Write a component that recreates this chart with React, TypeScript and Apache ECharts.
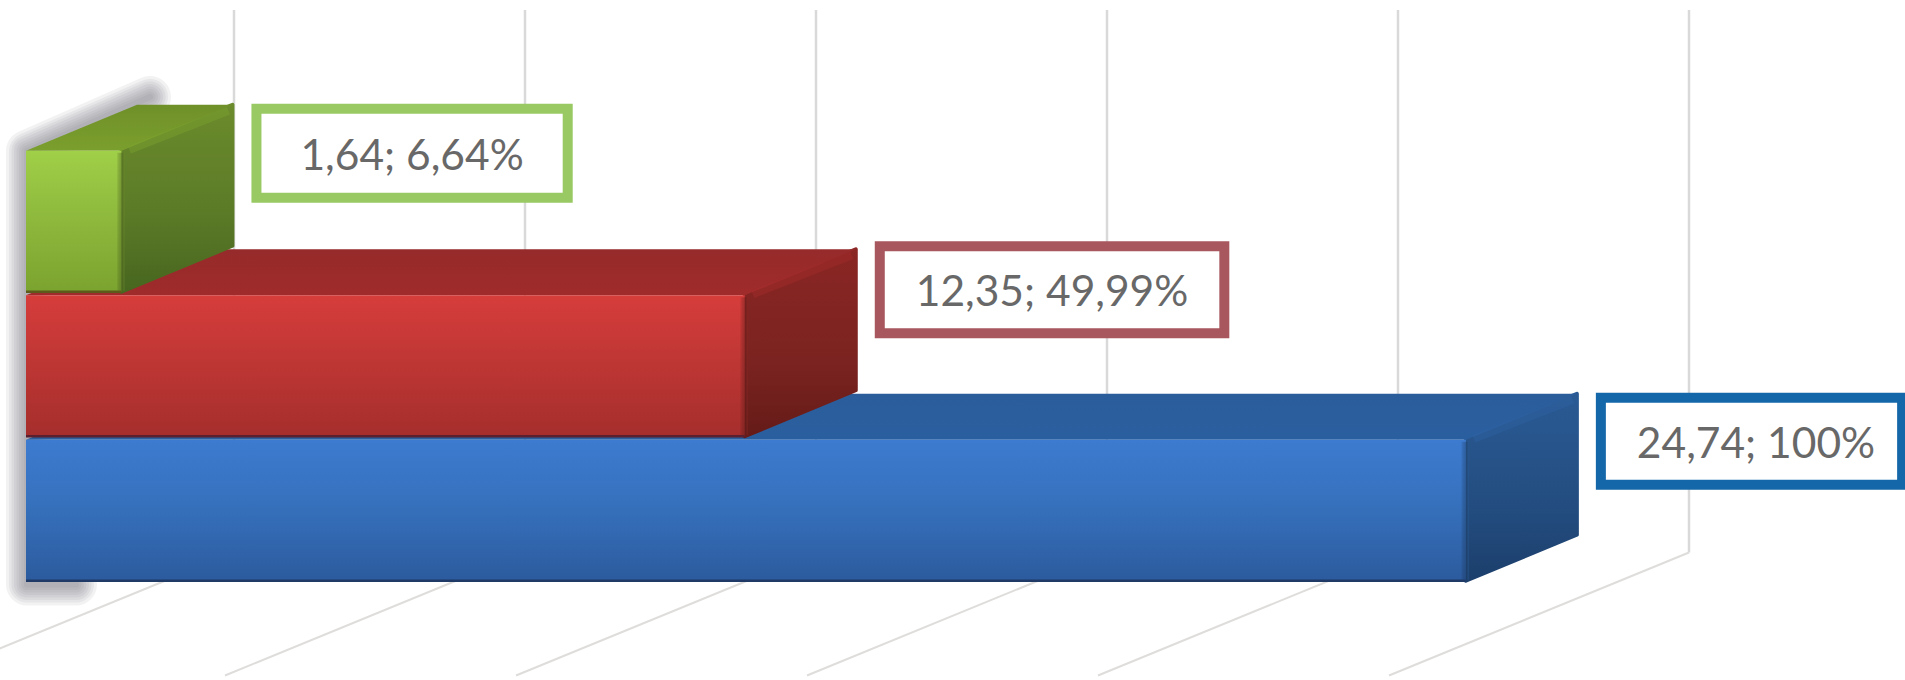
import React, { useEffect, useRef } from "react";
import * as echarts from "echarts";

const categories = ["Verde", "Rojo", "Azul"];
const values = [1.64, 12.35, 24.74];
const percents = ["6,64%", "49,99%", "100%"];
const valueTexts = ["1,64", "12,35", "24,74"];
const ticks = [0, 5, 10, 15, 20, 25];

const lg = (stops: [number, string][], x2 = 0, y2 = 1) =>
  new echarts.graphic.LinearGradient(0, 0, x2, y2, stops.map(([offset, color]) => ({ offset, color })));

const palettes = [
  {
    front: [[0, "#a0cf48"], [0.5, "#8db83c"], [1, "#7ba32f"]],
    top: [[0, "#6f9029"], [1, "#7b9f2d"]],
    side: [[0, "#6b8b2c"], [0.6, "#5b7a27"], [1, "#47661f"]],
    edge: "#7fa52f", base: "#5d5a1c", border: "#98c963",
  },
  {
    front: [[0, "#d63d3b"], [0.5, "#bd3634"], [1, "#a52e2c"]],
    top: [[0, "#962a2a"], [1, "#a02b2b"]],
    side: [[0, "#8a2624"], [0.6, "#7b2320"], [1, "#651b18"]],
    edge: "#a82c2c", base: "#5a2030", border: "#a7575d",
  },
  {
    front: [[0, "#3d7bd0"], [0.45, "#3671bd"], [1, "#2c5b9e"]],
    top: [[0, "#2b5d9b"], [1, "#2a5f9f"]],
    side: [[0, "#2a5a94"], [0.6, "#234d80"], [1, "#1c3f6c"]],
    edge: "#2f64a6", base: "#1f3a66", border: "#1467a9",
  },
];

const labelBoxes = [
  { dy: -68, pl: 39, pr: 39, py: 18, gap: 29 },
  { dy: -76, pl: 31, pr: 31, py: 17, gap: 29 },
  { dy: -69, pl: 31, pr: 22, py: 17, gap: 29 },
];

const DEPTH_X = 111;
const DEPTH_Y = -46;
const WALL_X = 208;

export default function App() {
  const ref = useRef<HTMLDivElement>(null);

  useEffect(() => {
    document.body.style.margin = "0";
    const chart = echarts.init(ref.current!, null, { renderer: "svg" });

    const renderWall = (_: any, api: any) => {
      const [x, y0] = api.coord([api.value(0), 0]);
      const band = api.size([0, 1])[1];
      const topY = y0 - band / 2 - 139;
      const floorY = y0 + band * 2.5 - 30;
      const wx = x + WALL_X;
      return {
        type: "group",
        children: [
          {
            type: "line", silent: true,
            shape: { x1: wx, y1: topY, x2: wx, y2: floorY },
            style: { stroke: "#d9d9d9", lineWidth: 2.5 },
          },
          {
            type: "line", silent: true,
            shape: { x1: wx, y1: floorY, x2: wx - 300, y2: floorY + 123 },
            style: { stroke: "#dedddb", lineWidth: 2 },
          },
        ],
      };
    };

    const renderShadow = (_: any, api: any) => {
      const [x0, y0] = api.coord([0, 0]);
      const [, y2] = api.coord([0, 2]);
      const band = api.size([0, 1])[1];
      const pts = [
        [x0 + 124, y0 - band / 2 - 52],
        [x0 + 1, y0 - band / 2 + 2],
        [x0 + 1, y2 + band / 2 + 2],
        [x0 + 50, y2 + band / 2 + 2],
      ];
      return {
        type: "group",
        children: [42, 36, 31, 26, 21, 16, 11, 6].map((w) => ({
          type: "polyline", silent: true,
          shape: { points: pts },
          style: { fill: "none", stroke: "rgba(115,110,125,0.09)", lineWidth: w, lineJoin: "round", lineCap: "round" },
        })),
      };
    };

    const renderBar = (_: any, api: any) => {
      const i = api.value(1);
      const pal = palettes[i];
      const [fx1, cy] = api.coord([api.value(0), i]);
      const [fx0] = api.coord([0, i]);
      const h = api.size([0, 1])[1] * 0.975;
      const ft = cy - h / 2;
      const fb = cy + h / 2;
      const bx = fx1 + DEPTH_X;
      const poly = (points: number[][], fill: any, round = false) => ({
        type: "polygon", silent: true,
        shape: { points },
        style: round
          ? { fill, stroke: lg(pal.side as any), lineWidth: 4, lineJoin: "round" }
          : { fill },
      });
      return {
        type: "group",
        children: [
          poly([[fx1, ft], [bx, ft + DEPTH_Y], [bx, fb + DEPTH_Y], [fx1, fb]], lg(pal.side as any), true),
          poly([[fx0, ft], [fx0 + DEPTH_X, ft + DEPTH_Y], [bx, ft + DEPTH_Y], [fx1, ft]], lg(pal.top as any)),
          {
            type: "line", silent: true,
            shape: { x1: fx1 + 8, y1: ft - 1, x2: bx - 4, y2: ft + DEPTH_Y + 6 },
            style: { stroke: pal.edge, lineWidth: 8, opacity: 0.4 },
          },
          {
            type: "rect", silent: true,
            shape: { x: fx0, y: ft, width: fx1 - fx0, height: h },
            style: { fill: lg(pal.front as any) },
          },
          {
            type: "rect", silent: true,
            shape: { x: fx1 - 5, y: ft + 2, width: 8, height: h - 3 },
            style: {
              fill: lg([[0, "rgba(0,0,0,0)"], [1, pal.side[0][1]]], 1, 0),
              opacity: 0.6,
            },
          },
          {
            type: "line", silent: true,
            shape: { x1: fx0, y1: fb, x2: fx1, y2: fb },
            style: { stroke: pal.base, lineWidth: 2.5 },
          },
        ],
      };
    };

    const renderLabel = (_: any, api: any) => {
      const i = api.value(1);
      const [fx1, cy] = api.coord([api.value(0), i]);
      const box = labelBoxes[i];
      return {
        type: "text", silent: true,
        x: fx1 + DEPTH_X + box.gap,
        y: cy + box.dy,
        style: {
          text: `${valueTexts[i]}; ${percents[i]}`,
          align: "left",
          verticalAlign: "middle",
          fontFamily: "Lato",
          fontSize: 42.5,
          fill: "#686868",
          backgroundColor: "#ffffff",
          borderColor: palettes[i].border,
          borderWidth: 10,
          borderRadius: 0,
          padding: [box.py, box.pr, box.py, box.pl],
        },
      };
    };

    const barData = categories.map((_, i) => [values[i], i]).reverse();
    const labelData = categories.map((_, i) => [values[i], i]);

    chart.setOption({
      animation: false,
      backgroundColor: "#ffffff",
      grid: { left: 26, width: 1455, top: 149, height: 433.5 },
      xAxis: { type: "value", min: 0, max: 25, interval: 5, show: false },
      yAxis: { type: "category", data: categories, inverse: true, show: false },
      series: [
        { type: "custom", z: 1, renderItem: renderWall, data: ticks.map((t) => [t, 0]), clip: false },
        { type: "custom", z: 2, renderItem: renderShadow, data: [[0, 0]], clip: false },
        { type: "custom", z: 3, renderItem: renderBar, data: barData, clip: false },
        { type: "custom", z: 4, renderItem: renderLabel, data: labelData, clip: false },
      ],
    });
    return () => chart.dispose();
  }, []);

  return (
    <div
      ref={ref}
      style={{ position: "absolute", left: 0, top: 0, width: 1905, height: 680, overflow: "hidden" }}
    />
  );
}
